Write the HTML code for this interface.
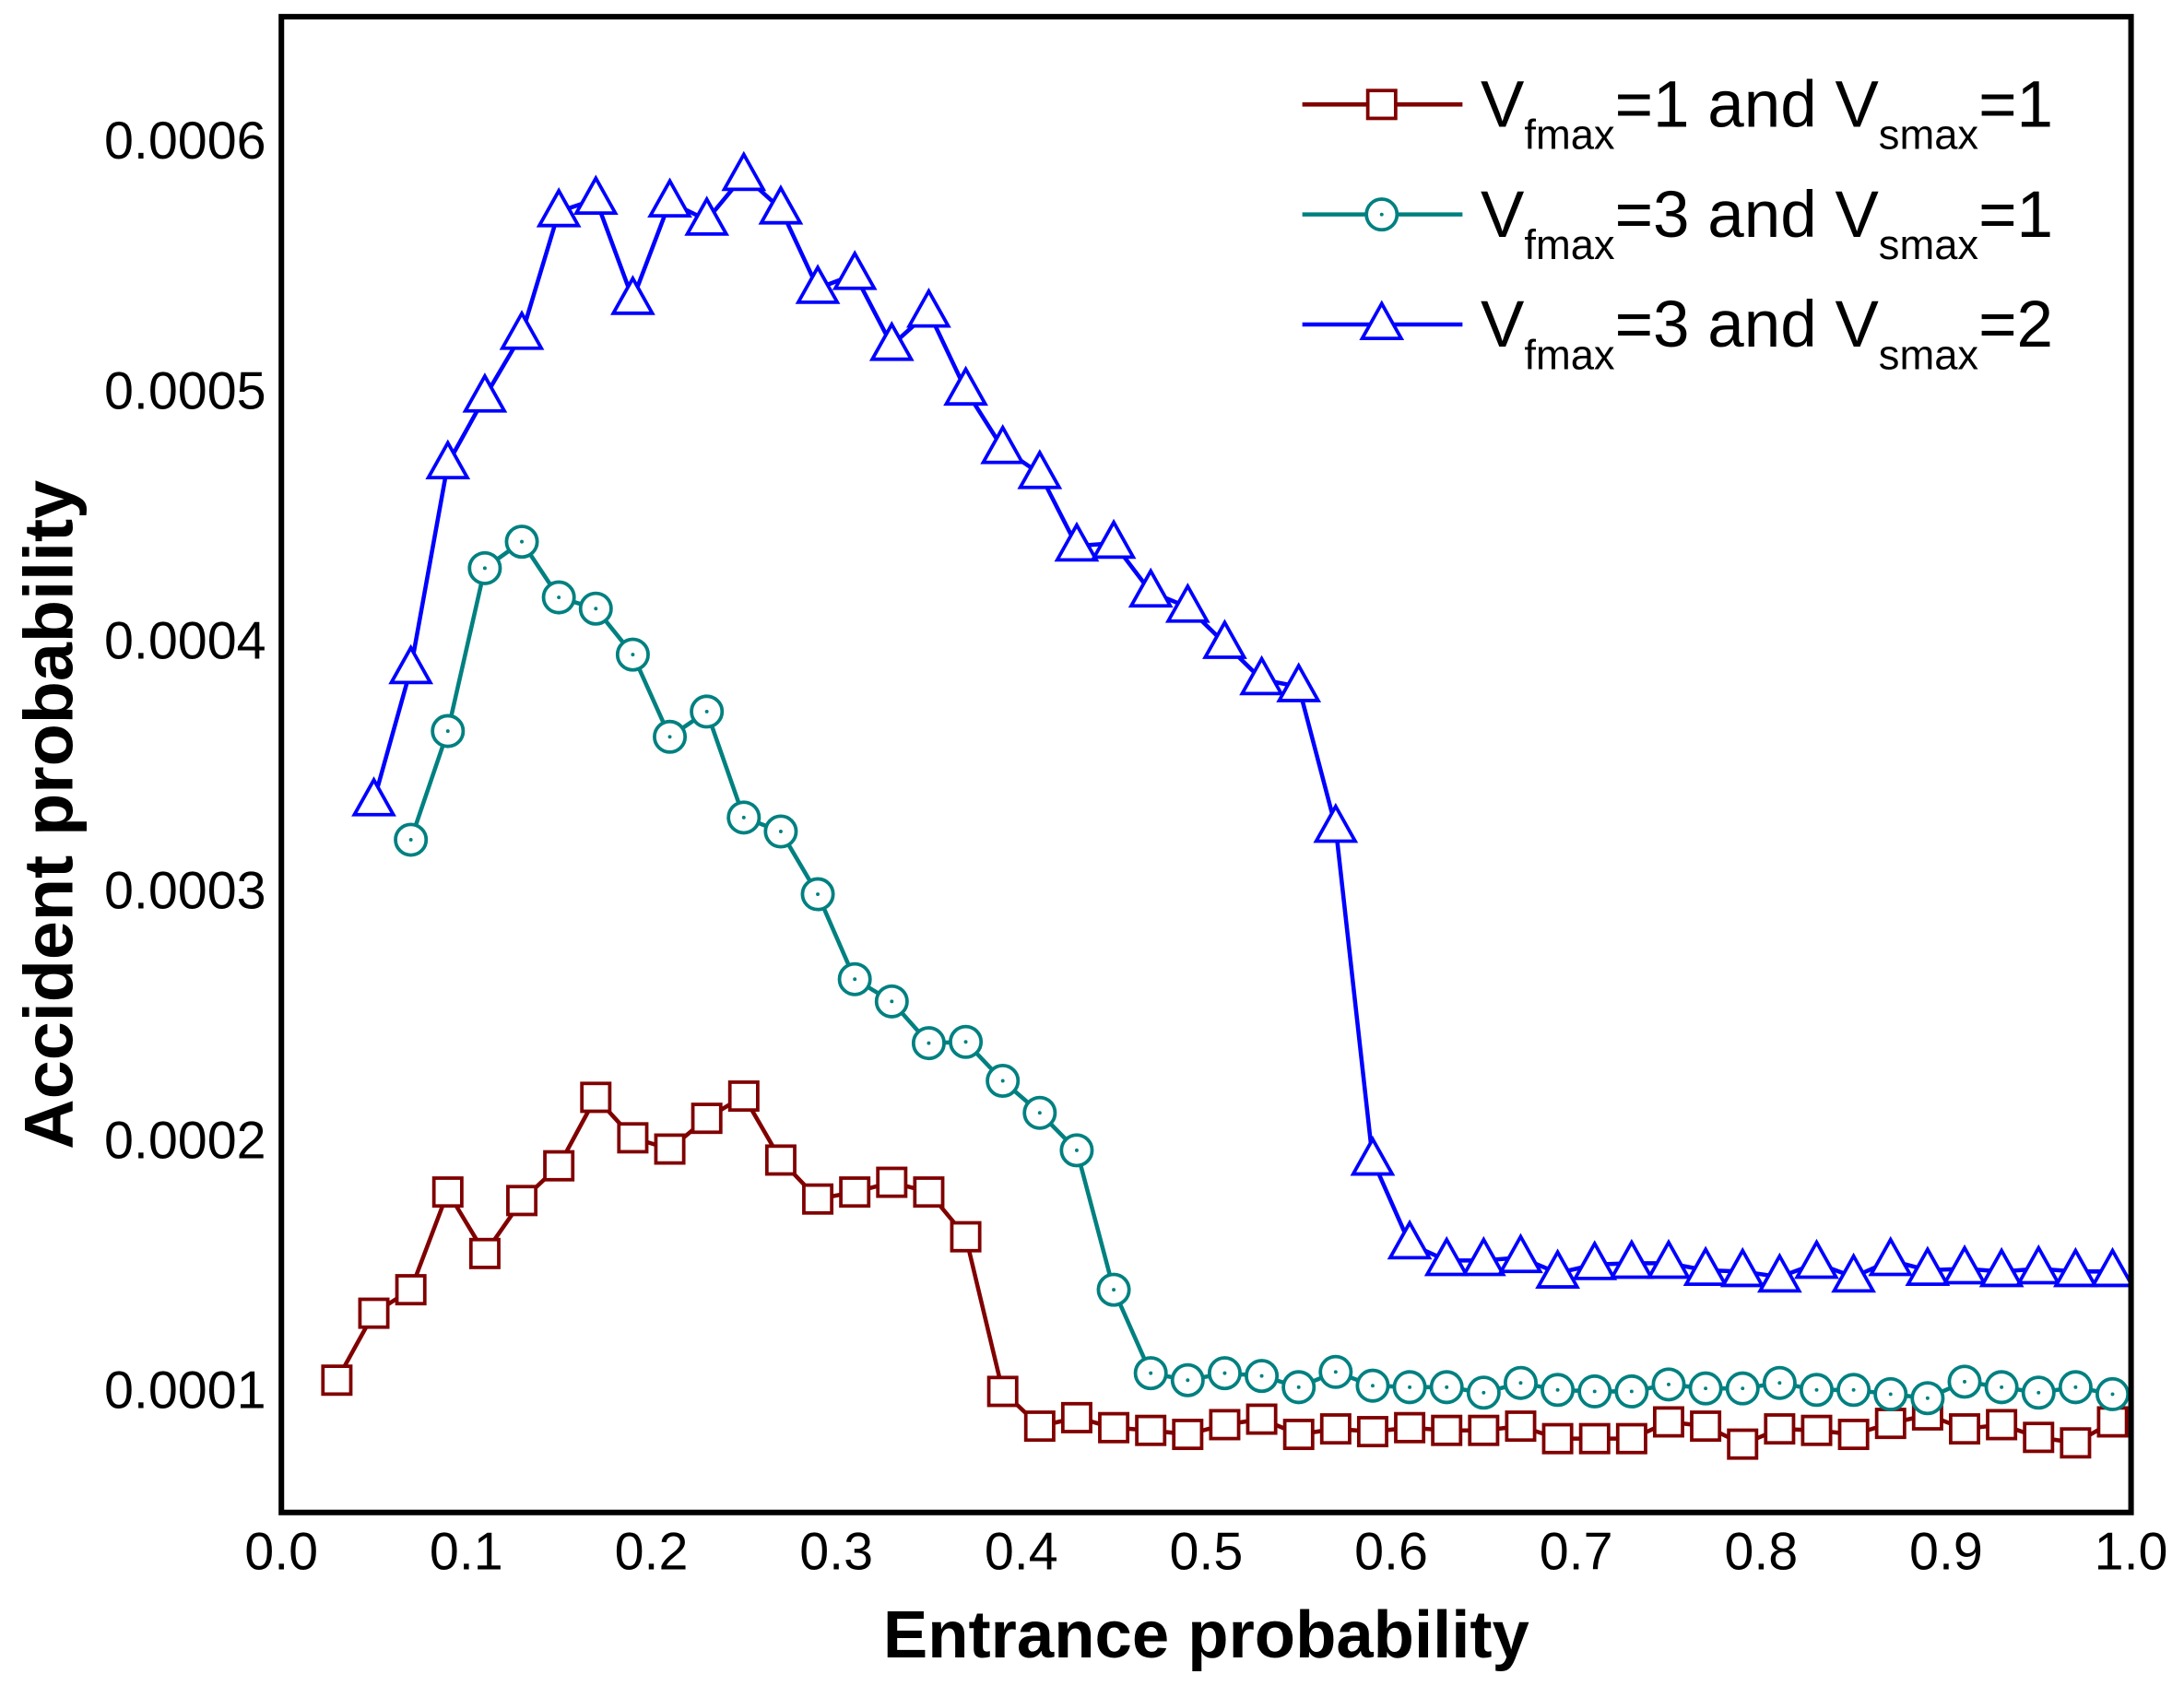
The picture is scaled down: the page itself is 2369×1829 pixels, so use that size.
<!DOCTYPE html>
<html><head><meta charset="utf-8"><style>
html,body{margin:0;padding:0;background:#fff}
svg{display:block}
text{font-family:"Liberation Sans",Arial,sans-serif}
</style></head><body>
<svg id="chart" width="2369" height="1829" viewBox="0 0 1568 1210.6" xmlns="http://www.w3.org/2000/svg">
<defs><clipPath id="pc"><rect x="202" y="12" width="1328" height="1074"/></clipPath></defs>
<g id="marks" clip-path="url(#pc)"></g>
<rect x="202" y="12" width="1328" height="1074" fill="none" stroke="#000" stroke-width="4"/>
<g id="xticks"></g><g id="yticks"></g>
<text x="866" y="1190" font-size="48" font-weight="bold" text-anchor="middle">Entrance probability</text>
<text transform="translate(52,585) rotate(-90)" font-size="50" font-weight="bold" text-anchor="middle">Accident probability</text>
<g id="legend"></g>
</svg>
<script>
const xTicks=[0,0.1,0.2,0.3,0.4,0.5,0.6,0.7,0.8,0.9,1.0];
const yTicks=[0.0001,0.0002,0.0003,0.0004,0.0005,0.0006];
const redStart=0.03, tealStart=0.07, blueStart=0.05, step=0.02;
// values in units of 1e-4
const redVals=[1.039,1.307,1.401,1.792,1.546,1.758,1.897,2.171,2.009,1.964,2.087,2.176,1.920,1.764,1.792,1.831,1.792,1.613,0.994,0.855,0.889,0.849,0.838,0.822,0.861,0.883,0.822,0.844,0.833,0.849,0.838,0.838,0.855,0.805,0.805,0.805,0.872,0.855,0.783,0.844,0.838,0.822,0.866,0.900,0.844,0.861,0.810,0.788,0.872];
const tealVals=[3.202,3.637,4.289,4.395,4.172,4.127,3.943,3.614,3.715,3.291,3.235,2.984,2.644,2.555,2.388,2.393,2.237,2.109,1.959,1.401,1.067,1.039,1.067,1.056,1.011,1.072,1.017,1.011,1.011,0.989,1.028,1.0,0.994,0.994,1.022,1.006,1.006,1.028,1.0,1.0,0.983,0.967,1.033,1.011,0.989,1.011,0.983];
const blueVals=[3.358,3.887,4.707,4.974,5.225,5.716,5.766,5.365,5.755,5.682,5.861,5.727,5.409,5.465,5.181,5.314,5.002,4.768,4.668,4.378,4.389,4.194,4.133,3.988,3.843,3.815,3.252,1.920,1.585,1.518,1.518,1.530,1.468,1.502,1.507,1.507,1.479,1.474,1.452,1.507,1.452,1.518,1.479,1.485,1.474,1.485,1.474,1.474];
const NS='http://www.w3.org/2000/svg';
const X=v=>202+v*1328;
const Y=v=>998-(v*1e4-1)*179.4;
function mk(tag,attrs,parent){const e=document.createElementNS(NS,tag);for(const k in attrs)e.setAttribute(k,attrs[k]);parent.appendChild(e);return e;}
const xt=document.getElementById('xticks');
xTicks.forEach(t=>{const e=mk('text',{x:X(t),y:1127,'font-size':38,'text-anchor':'middle'},xt);


e.textContent=t.toFixed(1);});
const yt=document.getElementById('yticks');
yTicks.forEach(t=>{const e=mk('text',{x:191,y:Y(t)+13,'font-size':38,'text-anchor':'end'},yt);


e.textContent=t.toFixed(4);});
function marker(type,cx,cy,color,parent){
 let e;
 if(type==='sq') e=mk('rect',{x:cx-10,y:cy-10,width:20,height:20,fill:'#fff',stroke:color,'stroke-width':2.5},parent);
 else if(type==='ci'){e=mk('circle',{cx:cx,cy:cy,r:11,fill:'#fff',stroke:color,'stroke-width':2.5},parent);
  mk('circle',{cx:cx,cy:cy,r:1.3,fill:color},parent);}
 else e=mk('polygon',{points:`${cx},${cy-15} ${cx+14},${cy+10} ${cx-14},${cy+10}`,fill:'#fff',stroke:color,'stroke-width':2.5},parent);
 return e;
}
const series=[{name:'red',vals:redVals,start:redStart,color:'#800000',m:'sq'},
{name:'teal',vals:tealVals,start:tealStart,color:'#008080',m:'ci'},
{name:'blue',vals:blueVals,start:blueStart,color:'#0000ff',m:'tr'}];
const g=document.getElementById('marks');
series.forEach(s=>{
 const pts=s.vals.map((v,i)=>[X(s.start+i*step),Y(v/1e4)]);
 const pl=mk('polyline',{points:pts.map(p=>p.join(',')).join(' '),fill:'none',stroke:s.color,'stroke-width':3},g);
 
 
 pts.forEach(p=>{const e=marker(s.m,p[0],p[1],s.color,g);
  
  });
});
const lg=document.getElementById('legend');
const labels=[['1','1'],['3','1'],['3','2']];
series.forEach((s,i)=>{
 const y=75+i*79;
 const l=mk('line',{x1:935,x2:1050,y1:y,y2:y,stroke:s.color,'stroke-width':3},lg);
 
 
 marker(s.m,992,y,s.color,lg);
 const t=mk('text',{x:1063,y:y+16,'font-size':47},lg);
 
 
 t.innerHTML=`V<tspan font-size="30" dy="16">fmax</tspan><tspan dy="-16">=${labels[i][0]} and V</tspan><tspan font-size="30" dy="16">smax</tspan><tspan dy="-16">=${labels[i][1]}</tspan>`;
});
</script>
</body></html>
